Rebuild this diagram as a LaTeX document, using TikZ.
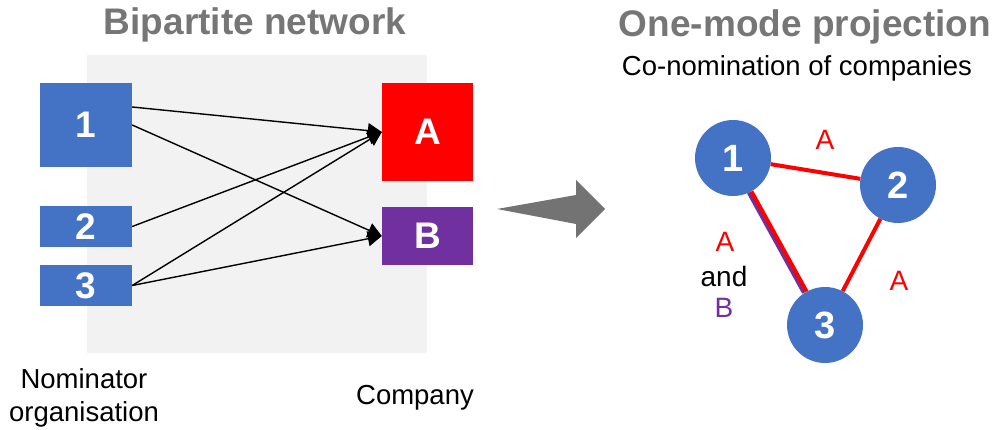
\documentclass[tikz,border=0pt]{standalone}
\usepackage{fontspec}
\setmainfont{Liberation Sans}
\usetikzlibrary{arrows.meta}
\definecolor{boxblue}{HTML}{4472C4}
\definecolor{compred}{HTML}{FF0000}
\definecolor{comppurple}{HTML}{7030A0}
\definecolor{panelgray}{HTML}{F2F2F2}
\definecolor{titlegray}{HTML}{767676}
\definecolor{arrowgray}{HTML}{737373}
\begin{document}
\begin{tikzpicture}[x=1pt,y=-1pt,
  title/.style={text=titlegray,font=\fontsize{37}{40}\selectfont\bfseries,inner sep=0pt},
  caption/.style={font=\fontsize{27.5}{33}\selectfont,inner sep=0pt,align=center},
  orgbox/.style={fill=boxblue,text=white,inner sep=0pt,minimum width=92pt,
    font=\fontsize{37}{40}\selectfont\bfseries},
  compbox/.style={text=white,inner sep=0pt,minimum width=91pt,
    font=\fontsize{37}{40}\selectfont\bfseries},
  link/.style={line width=1.4pt,-{Triangle[length=14pt,width=15pt]}},
  projnode/.style={circle,fill=boxblue,text=white,inner sep=0pt,minimum size=76pt,
    font=\fontsize{38}{40}\selectfont\bfseries},
  projedge/.style={line width=4pt},
  edgelabel/.style={font=\fontsize{28}{30}\selectfont,inner sep=0pt}]
\useasboundingbox (0,0) rectangle (996,430);

% bipartite panel
\fill[panelgray] (87,55) rectangle (427,353);
\node[title] (t1) at (255,25) {Bipartite network};

\node[orgbox,minimum height=84pt] (n1) at (86,125) {1};
\node[orgbox,minimum height=41pt] (n2) at (86,226.5) {2};
\node[orgbox,minimum height=41pt] (n3) at (86,285.5) {3};
\node[compbox,fill=compred,minimum height=98pt] (cA) at (427.5,132) {A};
\node[compbox,fill=comppurple,minimum height=58pt] (cB) at (427.5,236) {B};

\draw[link] ([yshift=18pt]n1.east) -- (cA.west);
\draw[link] (n1.east) -- (cB.west);
\draw[link] (n2.east) -- (cA.west);
\draw[link] (n3.east) -- (cA.west);
\draw[link] (n3.east) -- (cB.west);

\node[caption] (lorg) at (84,398) {Nominator\\organisation};
\node[caption,anchor=base] (lcomp) at (415,404) {Company};

% projection arrow
\fill[arrowgray] (497,209) -- (576,195) -- (576,180) -- (605,209)
  -- (576,238) -- (576,224) -- cycle;

% one-mode projection
\node[title] (t2) at (805,27) {One-mode projection};
\node[caption,anchor=base] (sub) at (797,76) {Co-nomination of companies};

\node[projnode] (p1) at (733,158) {1};
\node[projnode] (p2) at (898,185) {2};
\node[projnode] (p3) at (825,325) {3};

\draw[projedge,comppurple,transform canvas={shift={(-2.6pt,-1.2pt)}}] (p1) -- (p3);
\draw[projedge,compred] (p1) -- (p3);
\draw[projedge,compred] (p1) -- (p2);
\draw[projedge,compred] (p2) -- (p3);

\node[edgelabel,text=compred] (l12) at (825,140) {A};
\node[edgelabel,text=compred] (l23) at (899,281) {A};
\node[edgelabel,text=compred] (l13a) at (725,242) {A};
\node[edgelabel] (l13and) at (724,276) {and};
\node[edgelabel,text=comppurple] (l13b) at (724,308) {B};
\end{tikzpicture}
\end{document}
